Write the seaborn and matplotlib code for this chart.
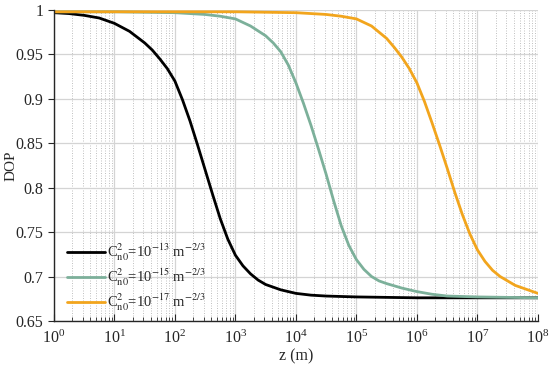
import numpy as np
import pandas as pd
import matplotlib
matplotlib.use('Agg')
import matplotlib.pyplot as plt
import seaborn as sns

# values (log10 z, DOP)
logz_black = [0, 0.25, 0.5, 0.75, 1.0, 1.25, 1.5, 1.625, 1.75, 1.875, 2.0, 2.125, 2.25, 2.375, 2.5,
              2.625, 2.75, 2.875, 3.0, 3.125, 3.25, 3.375, 3.5, 3.75, 4.0, 4.25, 4.5, 5.0, 6.0, 7.0, 8.0]
dop_black = [0.997, 0.996, 0.994, 0.991, 0.985, 0.976, 0.963, 0.955, 0.945, 0.934, 0.92, 0.899, 0.875, 0.848, 0.82,
             0.792, 0.765, 0.742, 0.724, 0.712, 0.703, 0.696, 0.691, 0.685, 0.681, 0.679, 0.678, 0.677, 0.676, 0.676, 0.676]

logz_green = [0, 1.0, 2.0, 2.5, 2.75, 3.0, 3.25, 3.5, 3.625, 3.75, 3.875, 4.0, 4.125, 4.25, 4.375, 4.5,
              4.625, 4.75, 4.875, 5.0, 5.125, 5.25, 5.375, 5.5, 5.75, 6.0, 6.25, 6.5, 7.0, 8.0]
dop_green = [0.998, 0.998, 0.997, 0.995, 0.993, 0.99, 0.982, 0.971, 0.963, 0.953, 0.938, 0.918, 0.895, 0.87, 0.843, 0.815,
             0.785, 0.757, 0.735, 0.719, 0.708, 0.70, 0.695, 0.692, 0.687, 0.683, 0.680, 0.678, 0.677, 0.676]

logz_orange = [0, 3.0, 4.0, 4.5, 4.75, 5.0, 5.25, 5.5, 5.625, 5.75, 5.875, 6.0, 6.125, 6.25, 6.375, 6.5,
               6.625, 6.75, 6.875, 7.0, 7.125, 7.25, 7.375, 7.5, 7.625, 7.75, 7.875, 8.0]
dop_orange = [0.998, 0.998, 0.997, 0.995, 0.993, 0.99, 0.982, 0.968, 0.958, 0.947, 0.934, 0.918, 0.897, 0.873, 0.848, 0.822,
              0.795, 0.77, 0.748, 0.73, 0.717, 0.707, 0.700, 0.695, 0.690, 0.687, 0.684, 0.681]

labels = [r'C$_{\rm n0}^{2}$=10$^{-13}$ m$^{-2/3}$',
          r'C$_{\rm n0}^{2}$=10$^{-15}$ m$^{-2/3}$',
          r'C$_{\rm n0}^{2}$=10$^{-17}$ m$^{-2/3}$']
colors = ['#000000', '#7cb09a', '#f2a51d']

sns.set_style('ticks')
plt.rcParams['font.family'] = ['Liberation Serif', 'DejaVu Serif']
plt.rcParams['mathtext.fontset'] = 'stix'

frames = []
for lz, d, lab in zip([logz_black, logz_green, logz_orange], [dop_black, dop_green, dop_orange], labels):
    frames.append(pd.DataFrame({'z': 10 ** np.array(lz, dtype=float), 'DOP': d, 'series': lab}))
df = pd.concat(frames, ignore_index=True)

fig = plt.figure(figsize=(5.5, 3.71), dpi=100)
ax = fig.add_axes([0.098, 0.135, 0.88, 0.838])
sns.lineplot(data=df, x='z', y='DOP', hue='series', palette=colors, linewidth=2.0, ax=ax, sort=False)

ax.set_xscale('log')
ax.set_xlim(1, 1e8)
ax.set_ylim(0.65, 1.0)
ax.set_xticks([10 ** i for i in range(9)])
ax.set_yticks([0.65, 0.7, 0.75, 0.8, 0.85, 0.9, 0.95, 1.0])
ax.set_yticklabels(['0.65', '0.7', '0.75', '0.8', '0.85', '0.9', '0.95', '1'])
ax.xaxis.set_minor_locator(matplotlib.ticker.LogLocator(base=10, subs=np.arange(2, 10), numticks=20))
ax.xaxis.set_minor_formatter(matplotlib.ticker.NullFormatter())

ax.grid(which='major', color='#d4d4d4', linewidth=0.9, linestyle='-')
ax.grid(which='minor', axis='x', color='#b8b8b8', linewidth=0.6, linestyle=(0, (1.2, 1.8)))
ax.set_axisbelow(True)

ax.tick_params(axis='x', which='major', direction='in', length=5, labelsize=11.5, pad=6)
ax.tick_params(axis='x', which='minor', direction='in', length=3)
ax.tick_params(axis='y', which='major', direction='out', length=4, labelsize=11.5)

for s in ['top', 'right']:
    ax.spines[s].set_visible(False)
ax.spines['left'].set_linewidth(1.0)
ax.spines['bottom'].set_linewidth(1.0)

ax.set_xlabel('z (m)', fontsize=11.5, labelpad=1)
ax.set_ylabel('DOP', fontsize=11)
ax.yaxis.set_label_coords(-0.076, 0.5)

leg = ax.legend(loc='lower left', bbox_to_anchor=(0.0, -0.018), frameon=False, fontsize=10.5,
                handlelength=2.6, handletextpad=0.15, labelspacing=0.25, title=None)

fig.savefig('out.png', dpi=100)
